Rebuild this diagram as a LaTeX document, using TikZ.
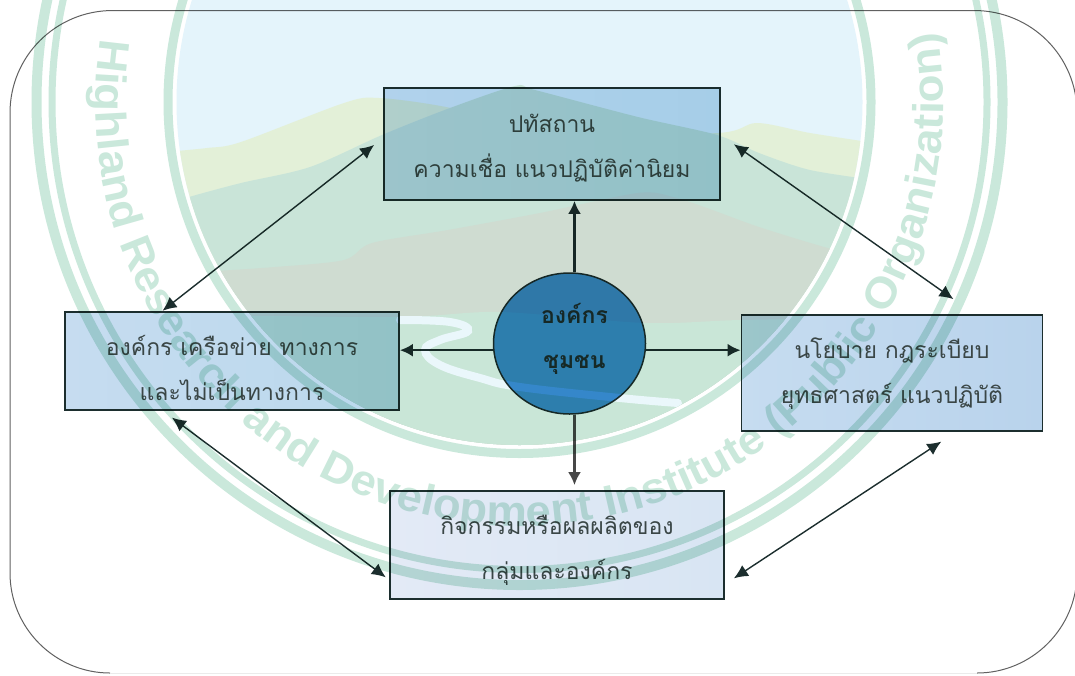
\documentclass[tikz,border=0pt]{standalone}
\usepackage{fontspec}
\usetikzlibrary{arrows.meta,shapes.geometric,decorations.text}
\newfontfamily\thaifont[Script=Thai]{Loma}
\newfontfamily\wmfont[FakeStretch=1.06]{Liberation Sans}
\definecolor{wmgreen}{HTML}{CAE8DB}
\definecolor{skyc}{HTML}{E4F4FB}
\definecolor{ridgea}{HTML}{E3F0D8}
\definecolor{ridgeb}{HTML}{C9E4D8}
\definecolor{greyhill}{HTML}{CFDCD1}
\definecolor{foreg}{HTML}{C9E6D7}
\definecolor{riverc}{HTML}{EAF7FB}
\definecolor{inkc}{HTML}{1C2E2E}
\definecolor{textc}{HTML}{3A4646}
\definecolor{hubc}{HTML}{3A8CCE}
\definecolor{fillaa}{HTML}{C6DCF0}
\definecolor{fillab}{HTML}{BAD8EC}
\definecolor{fillac}{HTML}{B9D3EC}
\definecolor{fillad}{HTML}{E3EAF6}
\definecolor{fillae}{HTML}{D8E5F3}
\newcommand{\twolines}[4]{\raisebox{#1}[0pt][0pt]{\hspace*{#2}\begin{tabular}[t]{@{}c@{}}#3\\#4\end{tabular}}}
\tikzset{
  boxa/.style={rectangle,draw=inkc,line width=1.8pt,inner sep=0pt,font=\thaifont\fontsize{23}{45}\selectfont,text=textc},
  hubnode/.style={ellipse,draw=inkc,line width=1.5pt,fill=hubc,inner sep=0pt,minimum width=152pt,minimum height=141pt,font=\thaifont\bfseries\fontsize{23}{45}\selectfont,text=inkc},
  hubarrow/.style={draw=inkc,line width=2.3pt,-{Latex[length=13pt,width=13pt]}},
  dblarrow/.style={draw=inkc,line width=1.4pt,{Latex[length=14pt,width=13pt]}-{Latex[length=14pt,width=13pt]}},
  ringline/.style={draw=wmgreen},
  framel/.style={draw=black!62,line width=1pt}
}
\begin{document}
\begin{tikzpicture}[x=1pt,y=-1pt]
\useasboundingbox (0,0) rectangle (1075,675);
\clip (0,0) rectangle (1075,675);
\fill[white] (0,0) rectangle (1075,675);
% frame
\draw[framel] (1077,113) .. controls (1077,56) and (1031,10.5) .. (974,10.5) -- (113,10.5) .. controls (56,10.5) and (10,56) .. (10,113) -- (10,573) .. controls (10,628) and (55,673) .. (110,673);
\draw[black!8,line width=.8pt] (110,673) -- (977,673);
\draw[framel] (977,673) .. controls (1032,673) and (1077,628) .. (1077,573);
% boxes
\node[boxa,minimum width=336pt,minimum height=112pt,shade,left color=fillaa,right color=fillab] (box1) at (552,144) {\twolines{12pt}{0pt}{ปทัสถาน}{ความเชื่อ แนวปฏิบัติค่านิยม}};
\node[boxa,minimum width=334pt,minimum height=98pt,shade,left color=fillaa,right color=fillab] (box2) at (232,361) {\twolines{6pt}{0pt}{องค์กร เครือข่าย ทางการ}{และไม่เป็นทางการ}};
\node[boxa,minimum width=301pt,minimum height=116pt,shade,left color=fillaa,right color=fillac] (box3) at (892,373) {\twolines{15pt}{0pt}{นโยบาย กฎระเบียบ}{ยุทธศาสตร์ แนวปฏิบัติ}};
\node[boxa,minimum width=334pt,minimum height=108pt,shade,left color=fillad,right color=fillae] (box4) at (557,545) {\twolines{11pt}{0pt}{กิจกรรมหรือผลผลิตของ}{กลุ่มและองค์กร}};
\node[hubnode] (hub) at (569.5,343.5) {\twolines{20.5pt}{10pt}{องค์กร}{ชุมชน}};
% connectors
\draw[hubarrow] (hub.86.8) -- (hub.86.8 |- box1.south);
\draw[hubarrow] (hub.-5) -- (hub.-5 -| box3.west);
\draw[hubarrow] (hub.185) -- (hub.185 -| box2.east);
\draw[hubarrow,draw=black!72] (hub.-86.8) -- ([yshift=5pt]hub.-86.8 |- box4.north);
\draw[dblarrow] ([shift={(-9,1)}]box1.west) -- ([shift={(-69.5,-0.3)}]box2.north);
\draw[dblarrow] ([shift={(13,0.3)}]box1.east) -- ([shift={(61.4,-15)}]box3.north);
\draw[dblarrow] ([shift={(-60,6.7)}]box2.south) -- ([shift={(-3.3,32.3)}]box4.west);
\draw[dblarrow] ([shift={(49.3,9.7)}]box3.south) -- ([shift={(9,33.3)}]box4.east);
% watermark
\begin{scope}[transparency group,blend mode=multiply]
  \path (0,0) rectangle (1075,675);
  \begin{scope}
    \clip (519.5,102) circle[radius=343];
    \fill[skyc] (150,-260) rectangle (890,460);
    \fill[ridgea] plot[smooth] coordinates {(165,152) (207,148) (241,142) (344,103) (379,98) (451,108) (560,135) (718,133) (757,123) (810,133) (875,143)} -- (875,460) -- (165,460) -- cycle;
    \fill[ridgeb] plot[smooth] coordinates {(165,205) (189,197) (241,183) (310,167) (382,135) (450,108) (515,86) (535,90) (638,117) (717,135) (759,153) (810,170) (875,180)} -- (875,460) -- (165,460) -- cycle;
    \fill[greyhill] plot[smooth] coordinates {(200,272) (275,267) (344,260) (372,243) (448,230) (540,213) (638,193) (673,197) (707,208) (759,227) (828,248) (875,258)} -- (875,460) -- (165,460) -- cycle;
    \fill[foreg] plot[smooth] coordinates {(200,315) (400,317) (500,312) (645,323) (740,320) (875,318)} -- (875,460) -- (165,460) -- cycle;
    \draw[riverc,line width=8pt,line cap=round] plot[smooth,tension=.7] coordinates {(400,320) (450,322) (468,331) (440,340) (425,350) (440,365) (480,378) (520,387) (620,398) (678,403)};
  \end{scope}
  \draw[ringline,line width=9pt] (519.5,102) circle[radius=351.5];
  \draw[ringline,line width=7pt] (519.5,102) circle[radius=467.5];
  \draw[ringline,line width=10pt] (519.5,102) circle[radius=483];
  \begin{scope}[shift={(519.5,102)},y=1pt]
    \coordinate (wmstart) at (171.5:424);
    \path[postaction={decorate},decoration={text along path,text align=center,text color=wmgreen,text={|\wmfont\bfseries\fontsize{43}{50}\selectfont|Highland Research and Development Institute (Public Organization)}}] (wmstart) arc[start angle=171.5,end angle=369.4,radius=424];
  \end{scope}
\end{scope}
\end{tikzpicture}
\end{document}
